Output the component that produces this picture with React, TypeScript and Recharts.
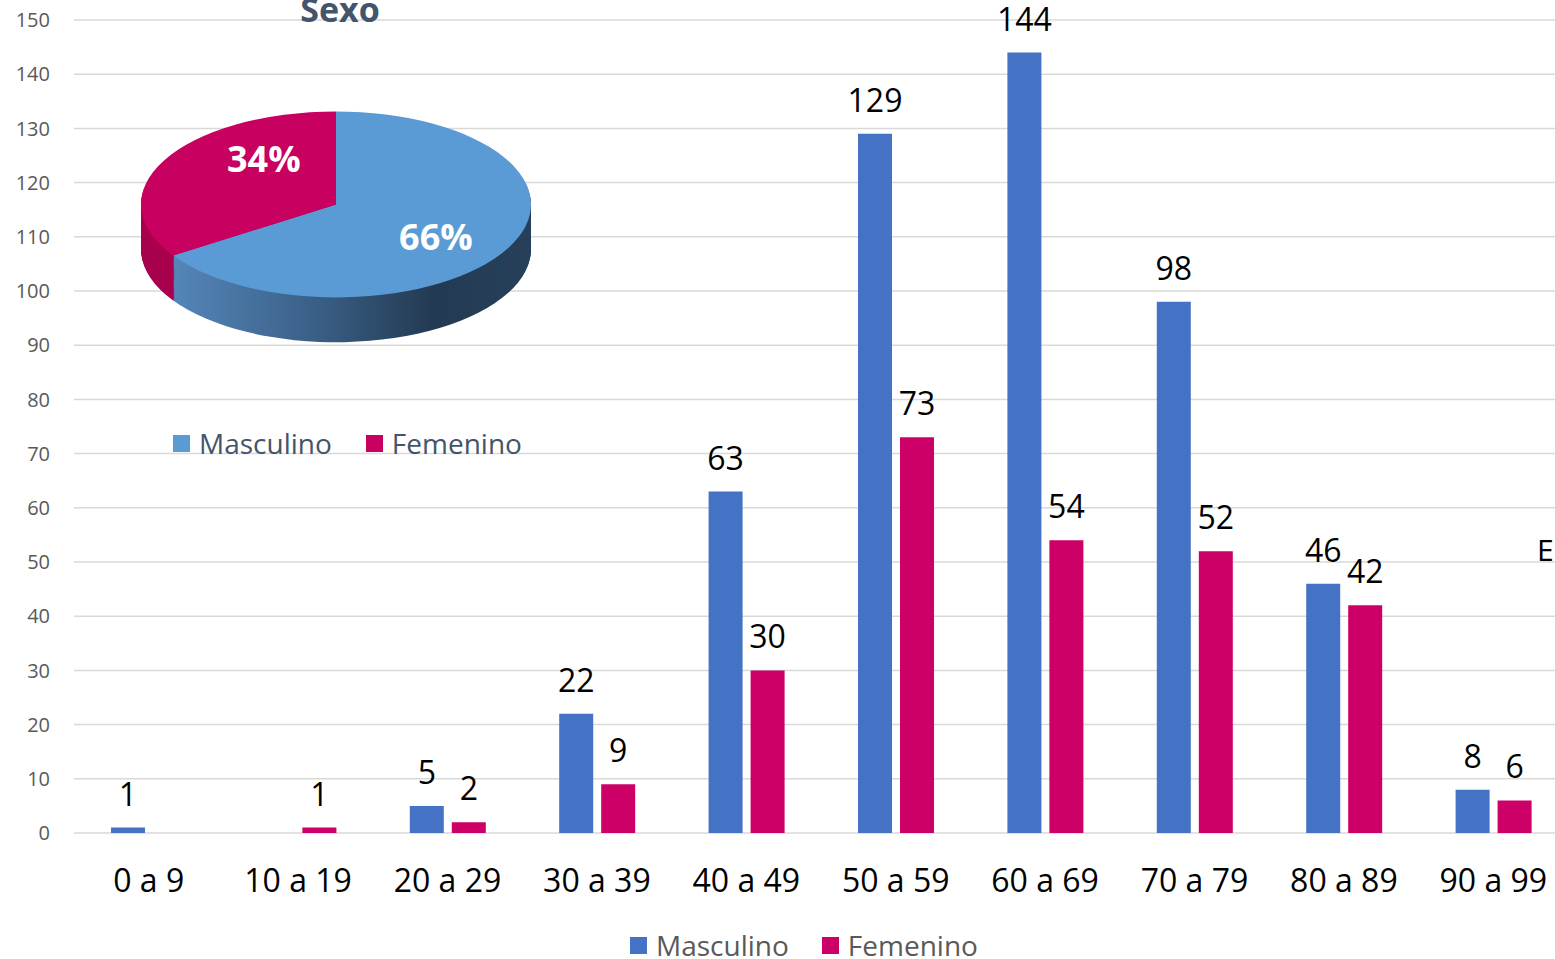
import React from 'react';
import {
    BarChart,
    Bar,
    XAxis,
    YAxis,
    CartesianGrid,
    LabelList,
    PieChart,
    Pie,
    Cell
} from 'recharts';

const CATEGORIES = ['0 a 9', '10 a 19', '20 a 29', '30 a 39', '40 a 49', '50 a 59', '60 a 69', '70 a 79', '80 a 89', '90 a 99'];
const MASCULINO = [1, 0, 5, 22, 63, 129, 144, 98, 46, 8];
const FEMENINO = [0, 1, 2, 9, 30, 73, 54, 52, 42, 6];
const Y_TICKS = [0, 10, 20, 30, 40, 50, 60, 70, 80, 90, 100, 110, 120, 130, 140, 150];
const SERIES = ['Masculino', 'Femenino'];
const PIE_TITLE = 'Sexo';

const BAR_COLORS = ['#4472C4', '#CC0066'];
const PIE_COLORS = ['#5B9BD5', '#C8005F'];
const SIDE_COLORS = ['url(#sideBlue)', '#A8004E'];
const FONT = '"Open Sans", "Noto Sans", sans-serif';

const sum = (a: number[]) => a.reduce((s, v) => s + v, 0);

// pie drawn flat then squashed to look tilted
const TILT = 0.477;
const PIE_R = 195;
const PIE_CX = 210;
const PIE_CY = 200;
const DEPTH = 94;
const LABEL_NUDGE = [-6, -25];

function PieLabel(props: any) {
    const { cx, cy, midAngle, outerRadius, percent, index } = props;
    const RAD = Math.PI / 180;
    const ang = (midAngle + (LABEL_NUDGE[index] || 0)) * RAD;
    const r = outerRadius * 0.62;
    const x = cx + r * Math.cos(-ang);
    const y = cy + r * Math.sin(-ang);
    return (
        <text
            transform={`translate(${x},${y}) scale(1,${1 / TILT})`}
            textAnchor="middle"
            dominantBaseline="central"
            fill="#fff"
            fontWeight={700}
            fontSize={36}
            fontFamily={FONT}
        >
            {`${Math.round(percent * 100)}%`}
        </text>
    );
}

export default function App() {
    const chartData = CATEGORIES.map((c, i) => ({
        name: c,
        Masculino: MASCULINO[i],
        Femenino: FEMENINO[i]
    }));
    const pieData = [
        { name: SERIES[0], value: sum(MASCULINO) },
        { name: SERIES[1], value: sum(FEMENINO) }
    ];
    const depthLayers: number[] = [];
    for (let d = DEPTH; d > 0; d -= 2) depthLayers.push(d);

    const hideZero = (v: any) => (v ? v : '');

    return (
        <div style={{ position: 'fixed', left: 0, top: 0, width: 1555, height: 959, overflow: 'hidden', background: '#fff', fontFamily: FONT }}>
            <BarChart width={1570} height={959} data={chartData} margin={{ top: 20, right: 2, left: 0, bottom: 0 }} barSize={34} barGap={8}>
                <CartesianGrid vertical={false} stroke="#d9d9d9" strokeWidth={1.5} />
                <XAxis
                    dataKey="name"
                    height={126}
                    axisLine={false}
                    tickLine={false}
                    tickMargin={30}
                    interval={0}
                    tick={{ fontSize: 32, fill: '#000', fontFamily: FONT }}
                />
                <YAxis
                    width={74}
                    domain={[0, 150]}
                    ticks={Y_TICKS}
                    axisLine={false}
                    tickLine={false}
                    tickMargin={18}
                    tick={{ fontSize: 20, fill: '#595959', fontFamily: FONT }}
                />
                {SERIES.map((s, i) => (
                    <Bar key={s} dataKey={s} fill={BAR_COLORS[i]} isAnimationActive={false}>
                        <LabelList dataKey={s} position="top" offset={22} fill="#000" fontSize={32} fontFamily={FONT} formatter={hideZero} />
                    </Bar>
                ))}
            </BarChart>

            {/* inset pie */}
            <div style={{ position: 'absolute', left: 336 - PIE_CX, top: 204 - PIE_CY * TILT, width: 420, height: 500, transform: `scaleY(${TILT})`, transformOrigin: '0 0' }}>
                <PieChart width={420} height={500} margin={{ top: 0, right: 0, left: 0, bottom: 0 }}>
                    <defs>
                        <linearGradient id="sideBlue" x1="15" y1="0" x2="405" y2="0" gradientUnits="userSpaceOnUse">
                            <stop offset="0%" stopColor="#5A8FC4" />
                            <stop offset="45%" stopColor="#3A5F86" />
                            <stop offset="75%" stopColor="#233A52" />
                            <stop offset="100%" stopColor="#27405A" />
                        </linearGradient>
                    </defs>
                    {depthLayers.map(d => (
                        <Pie
                            key={`side-${d}`}
                            data={pieData}
                            dataKey="value"
                            cx={PIE_CX}
                            cy={PIE_CY + d}
                            outerRadius={PIE_R}
                            startAngle={90}
                            endAngle={-270}
                            stroke="none"
                            isAnimationActive={false}
                        >
                            {pieData.map((p, i) => <Cell key={p.name} fill={SIDE_COLORS[i]} />)}
                        </Pie>
                    ))}
                    <Pie
                        data={pieData}
                        dataKey="value"
                        cx={PIE_CX}
                        cy={PIE_CY}
                        outerRadius={PIE_R}
                        startAngle={90}
                        endAngle={-270}
                        stroke="none"
                        label={PieLabel}
                        labelLine={false}
                        isAnimationActive={false}
                    >
                        {pieData.map((p, i) => <Cell key={p.name} fill={PIE_COLORS[i]} />)}
                    </Pie>
                </PieChart>
            </div>

            <div style={{ position: 'absolute', left: 240, top: -8, width: 200, textAlign: 'center', fontSize: 34, lineHeight: '34px', fontWeight: 700, color: '#44546A' }}>
                {PIE_TITLE}
            </div>

            {/* pie legend */}
            <div style={{ position: 'absolute', left: 173, top: 429, display: 'flex', alignItems: 'center', fontSize: 28, lineHeight: '28px', color: '#44546A' }}>
                {SERIES.map((s, i) => (
                    <div key={s} style={{ display: 'flex', alignItems: 'center', marginRight: i === 0 ? 34 : 0 }}>
                        <div style={{ width: 17, height: 17, background: PIE_COLORS[i], marginRight: 9 }} />
                        <span>{s}</span>
                    </div>
                ))}
            </div>

            {/* bar legend */}
            <div style={{ position: 'absolute', left: 630, top: 931, display: 'flex', alignItems: 'center', fontSize: 28, lineHeight: '28px', color: '#595959' }}>
                {SERIES.map((s, i) => (
                    <div key={s} style={{ display: 'flex', alignItems: 'center', marginRight: i === 0 ? 33 : 0 }}>
                        <div style={{ width: 17, height: 17, background: BAR_COLORS[i], marginRight: 9 }} />
                        <span>{s}</span>
                    </div>
                ))}
            </div>

            <div style={{ position: 'absolute', left: 1537, top: 535, fontSize: 30, lineHeight: '30px', color: '#000' }}>E</div>
        </div>
    );
}
